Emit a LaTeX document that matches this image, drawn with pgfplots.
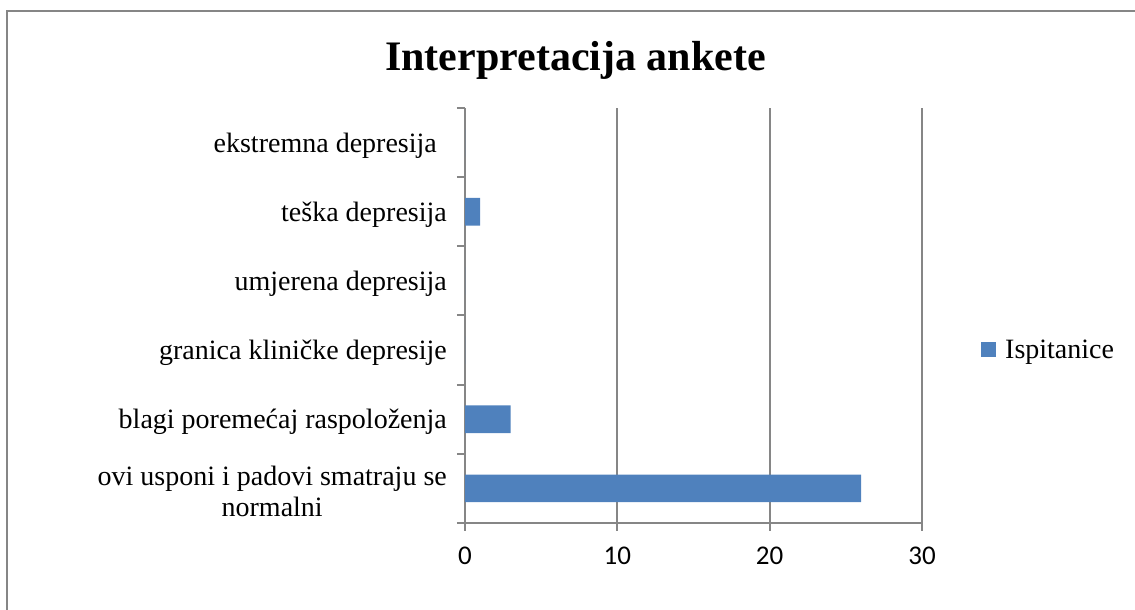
\documentclass[border=0pt]{standalone}
\usepackage{fontspec}
\setmainfont{Liberation Serif}
\newfontfamily\tnr{Liberation Serif}
\newfontfamily\carlito{Carlito}
\usepackage{pgfplots}
\pgfplotsset{compat=1.18}
\definecolor{barblue}{HTML}{4F81BD}
\definecolor{axgray}{HTML}{868686}
\begin{document}
\begin{tikzpicture}[x=1pt,y=1pt]
\useasboundingbox (0,0) rectangle (1135,610);
\draw[axgray, line width=2pt] (7,0) -- (7,599) -- (1135,599);
\node[font=\tnr\fontsize{42}{50}\selectfont\bfseries, anchor=base, inner sep=0pt] at (575.5,539) {Interpretacija ankete};
\begin{axis}[
  at={(465pt,87pt)}, anchor=south west, scale only axis,
  width=457pt, height=415pt,
  xbar, bar width=27.6pt, bar shift=0pt,
  xmin=0, xmax=30, ymin=-0.5, ymax=5.5,
  axis x line*=bottom, axis y line*=left,
  axis line style={axgray, line width=2pt},
  xtick={0,10,20,30}, xmajorgrids,
  grid style={axgray, line width=2pt},
  tick style={axgray, line width=2pt},
  major tick length=8pt, tick align=outside,
  xtick pos=bottom, ytick pos=left,
  ytick={-0.5,0.5,1.5,2.5,3.5,4.5,5.5},
  yticklabels={,,,,,,},
  extra y ticks={0,1,2,3,4,5},
  extra y tick labels={{ovi usponi i padovi smatraju se\\normalni},{blagi poremećaj raspoloženja},{granica kliničke depresije},{umjerena depresija},{teška depresija},{ekstremna depresija\hspace{10pt}}},
  extra y tick style={major tick length=0pt},
  yticklabel style={align=center, font=\tnr\fontsize{28}{31}\selectfont, inner sep=0pt, xshift=-18pt, yshift=-3pt},
  xticklabel style={font=\carlito\fontsize{27}{30}\selectfont, inner sep=0pt, yshift=-16pt},
  /pgf/number format/assume math mode=true,
  legend style={at={(1.1291,0.4169)}, anchor=west, draw=none, fill=none,
    font=\tnr\fontsize{28}{32}\selectfont, inner sep=0pt, row sep=0pt,
    /tikz/every odd column/.append style={column sep=7pt}},
  legend cell align=left,
  legend image code/.code={\fill[barblue] (0pt,-7.5pt) rectangle (15pt,7.5pt);},
]
\addplot[fill=barblue, draw=none] coordinates {(26,0) (3,1) (0,2) (0,3) (1,4) (0,5)};
\addlegendentry{Ispitanice}
\end{axis}
\end{tikzpicture}
\end{document}
